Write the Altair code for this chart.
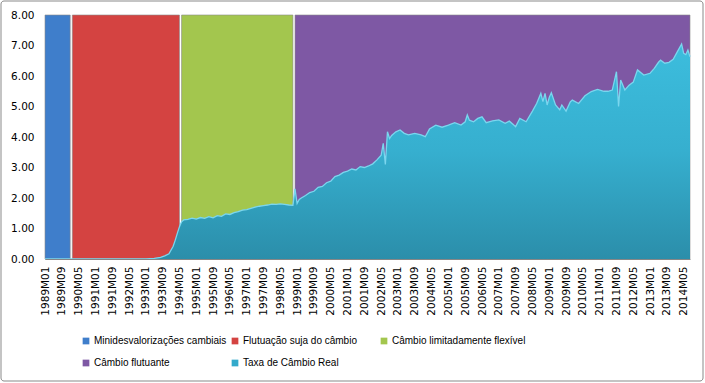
import altair as alt
import pandas as pd

# ---------------- data ----------------
series_names = [
    "Minidesvalorizações cambiais",
    "Flutuação suja do câmbio",
    "Câmbio limitadamente flexível",
    "Câmbio flutuante",
    "Taxa de Câmbio Real",
]
series_colors = ["#3F7ECB", "#D44341", "#A3C64E", "#7E58A4", "#33AACB"]

regime_names = series_names[:4]
regime_start = ["1989M01", "1990M02", "1994M06", "1998M12"]
regime_end = ["1990M01", "1994M05", "1998M11", "2014M08"]
regime_top = [8, 8, 8, 8]

tick_labels = [
    "1989M01", "1989M09", "1990M05", "1991M01", "1991M09", "1992M05", "1993M01",
    "1993M09", "1994M05", "1995M01", "1995M09", "1996M05", "1997M01", "1997M09",
    "1998M05", "1999M01", "1999M09", "2000M05", "2001M01", "2001M09", "2002M05",
    "2003M01", "2003M09", "2004M05", "2005M01", "2005M09", "2006M05", "2007M01",
    "2007M09", "2008M05", "2009M01", "2009M09", "2010M05", "2011M01", "2011M09",
    "2012M05", "2013M01", "2013M09", "2014M05",
]

rate_months = [
    "1989M01", "1993M01", "1993M05", "1993M08", "1993M10", "1993M12", "1994M02",
    "1994M03", "1994M04", "1994M05", "1994M06", "1994M07", "1994M09", "1994M11",
    "1995M01", "1995M03", "1995M05", "1995M07", "1995M09", "1995M11", "1996M01",
    "1996M03", "1996M05", "1996M07", "1996M09", "1996M11", "1997M01", "1997M03",
    "1997M05", "1997M07", "1997M09", "1997M11", "1998M01", "1998M03", "1998M05",
    "1998M07", "1998M09", "1998M11", "1998M12", "1999M01", "1999M02", "1999M03",
    "1999M05", "1999M07", "1999M09", "1999M11", "2000M01", "2000M03", "2000M05",
    "2000M07", "2000M09", "2000M11", "2001M01", "2001M03", "2001M05", "2001M07",
    "2001M09", "2001M11", "2002M01", "2002M03", "2002M05", "2002M06", "2002M07",
    "2002M08", "2002M09", "2002M10", "2002M12", "2003M02", "2003M04", "2003M06",
    "2003M09", "2003M12", "2004M02", "2004M04", "2004M07", "2004M10", "2005M01",
    "2005M04", "2005M07", "2005M09", "2005M10", "2005M11", "2006M01", "2006M03",
    "2006M05", "2006M07", "2006M10", "2007M01", "2007M04", "2007M06", "2007M08",
    "2007M09", "2007M11", "2008M02", "2008M05", "2008M07", "2008M09", "2008M10",
    "2008M11", "2008M12", "2009M01", "2009M02", "2009M04", "2009M06", "2009M07",
    "2009M09", "2009M11", "2009M12", "2010M03", "2010M06", "2010M09", "2010M12",
    "2011M03", "2011M05", "2011M07", "2011M09", "2011M10", "2011M11", "2012M01",
    "2012M03", "2012M05", "2012M07", "2012M10", "2013M01", "2013M03", "2013M05",
    "2013M06", "2013M08", "2013M10", "2013M12", "2014M02", "2014M04", "2014M05",
    "2014M06", "2014M07", "2014M08",
]
rate_values = [
    0.00, 0.00, 0.02, 0.05, 0.10, 0.17, 0.42,
    0.62, 0.85, 1.06, 1.22, 1.28, 1.30, 1.34,
    1.31, 1.36, 1.33, 1.39, 1.35, 1.42, 1.40,
    1.48, 1.46, 1.52, 1.55, 1.60, 1.62, 1.66,
    1.70, 1.73, 1.75, 1.77, 1.80, 1.79, 1.81,
    1.79, 1.77, 1.76, 2.30, 1.82, 1.95, 2.00,
    2.08, 2.18, 2.22, 2.35, 2.38, 2.50, 2.55,
    2.70, 2.75, 2.84, 2.88, 2.95, 2.92, 3.03,
    3.00, 3.05, 3.12, 3.25, 3.40, 3.79, 3.10,
    4.17, 3.95, 4.05, 4.17, 4.23, 4.12, 4.07,
    4.12, 4.07, 4.01, 4.26, 4.39, 4.32, 4.39,
    4.47, 4.39, 4.50, 4.72, 4.55, 4.50, 4.61,
    4.66, 4.47, 4.53, 4.56, 4.45, 4.52, 4.40,
    4.34, 4.61, 4.50, 4.85, 5.10, 5.43, 5.16,
    5.43, 5.05, 5.30, 5.45, 5.05, 4.89, 5.05,
    4.85, 5.15, 5.21, 5.10, 5.35, 5.49, 5.56,
    5.50, 5.50, 5.54, 6.14, 5.00, 5.87, 5.54,
    5.70, 5.80, 6.20, 6.03, 6.09, 6.25, 6.45,
    6.52, 6.42, 6.45, 6.55, 6.80, 7.05, 6.74,
    6.70, 6.85, 6.63,
]

# full monthly category domain 1989M01 .. 2014M08
all_months = [f"{y}M{m:02d}" for y in range(1989, 2015) for m in range(1, 13)]
all_months = all_months[: all_months.index("2014M08") + 1]

regimes = pd.DataFrame({
    "regime": regime_names, "start": regime_start, "end": regime_end,
    "top": regime_top, "bottom": [0] * len(regime_names),
})
rate = pd.DataFrame({"month": rate_months, "value": rate_values})

# ---------------- chart ----------------
W, H = 645, 244
AX_FONT = "DejaVu Sans"
LEG_FONT = "Liberation Sans"

x_scale = alt.Scale(type="point", domain=all_months, padding=0)
y_scale = alt.Scale(domain=[0, 8], nice=False, zero=True)

x_axis = alt.Axis(
    values=tick_labels, labelAngle=270, title=None, ticks=False,
    domainColor="#868686", labelFont=AX_FONT, labelFontSize=10.5,
    labelColor="#000000", labelPadding=7, labelOverlap=False,
)
y_axis = alt.Axis(
    values=[0, 1, 2, 3, 4, 5, 6, 7, 8], format=".2f", title=None, ticks=False,
    grid=False, domainColor="#868686", labelFont=AX_FONT, labelFontSize=10.5,
    labelColor="#000000", labelPadding=11,
)

legend = alt.Legend(
    title=None, orient="none", legendX=36, legendY=321, columns=3,
    gridAlign="all", direction="horizontal", symbolType="square", symbolSize=45,
    symbolStrokeWidth=0, symbolOpacity=1, labelFont=LEG_FONT, labelFontSize=10,
    labelColor="#000000", labelLimit=0, labelOffset=3, columnPadding=2,
    rowPadding=12,
)

bands = alt.Chart(regimes).mark_rect(stroke="#8a8a8a", strokeWidth=0.6).encode(
    x=alt.X("start:O", scale=x_scale, axis=x_axis),
    x2="end:O",
    y=alt.Y("top:Q", scale=y_scale, axis=y_axis),
    y2="bottom:Q",
    color=alt.Color("regime:N",
                    scale=alt.Scale(domain=series_names, range=series_colors),
                    legend=legend),
)

gradient = alt.Gradient(
    gradient="linear",
    stops=[alt.GradientStop(color="#3CBDDD", offset=0),
           alt.GradientStop(color="#36AFCF", offset=0.5),
           alt.GradientStop(color="#2B8EAA", offset=1)],
    x1=0, x2=0, y1=0, y2=1,
)

area = alt.Chart(rate).mark_area(fill=gradient, interpolate="linear").encode(
    x=alt.X("month:O", scale=x_scale, axis=x_axis),
    y=alt.Y("value:Q", scale=y_scale, axis=y_axis),
)

edge = alt.Chart(rate).mark_line(color="#7AD6EE", strokeWidth=1.3).encode(
    x=alt.X("month:O", scale=x_scale, axis=x_axis),
    y=alt.Y("value:Q", scale=y_scale, axis=y_axis),
)

border = alt.Chart(pd.DataFrame({"a": [0]})).mark_rect(
    fill=None, stroke="#898989", strokeWidth=1, cornerRadius=3, clip=False
).encode(
    x=alt.value(-44), x2=alt.value(W + 13), y=alt.value(-14), y2=alt.value(H + 122)
)

chart = alt.layer(bands, area, edge, border).properties(
    width=W, height=H,
    padding={"left": 45, "top": 15, "right": 15, "bottom": 124},
    autosize=alt.AutoSizeParams(type="none"),
    background="#FFFFFF",
).configure_view(stroke=None)

chart.save("out.html", embed_options={"renderer": "svg", "actions": False})
